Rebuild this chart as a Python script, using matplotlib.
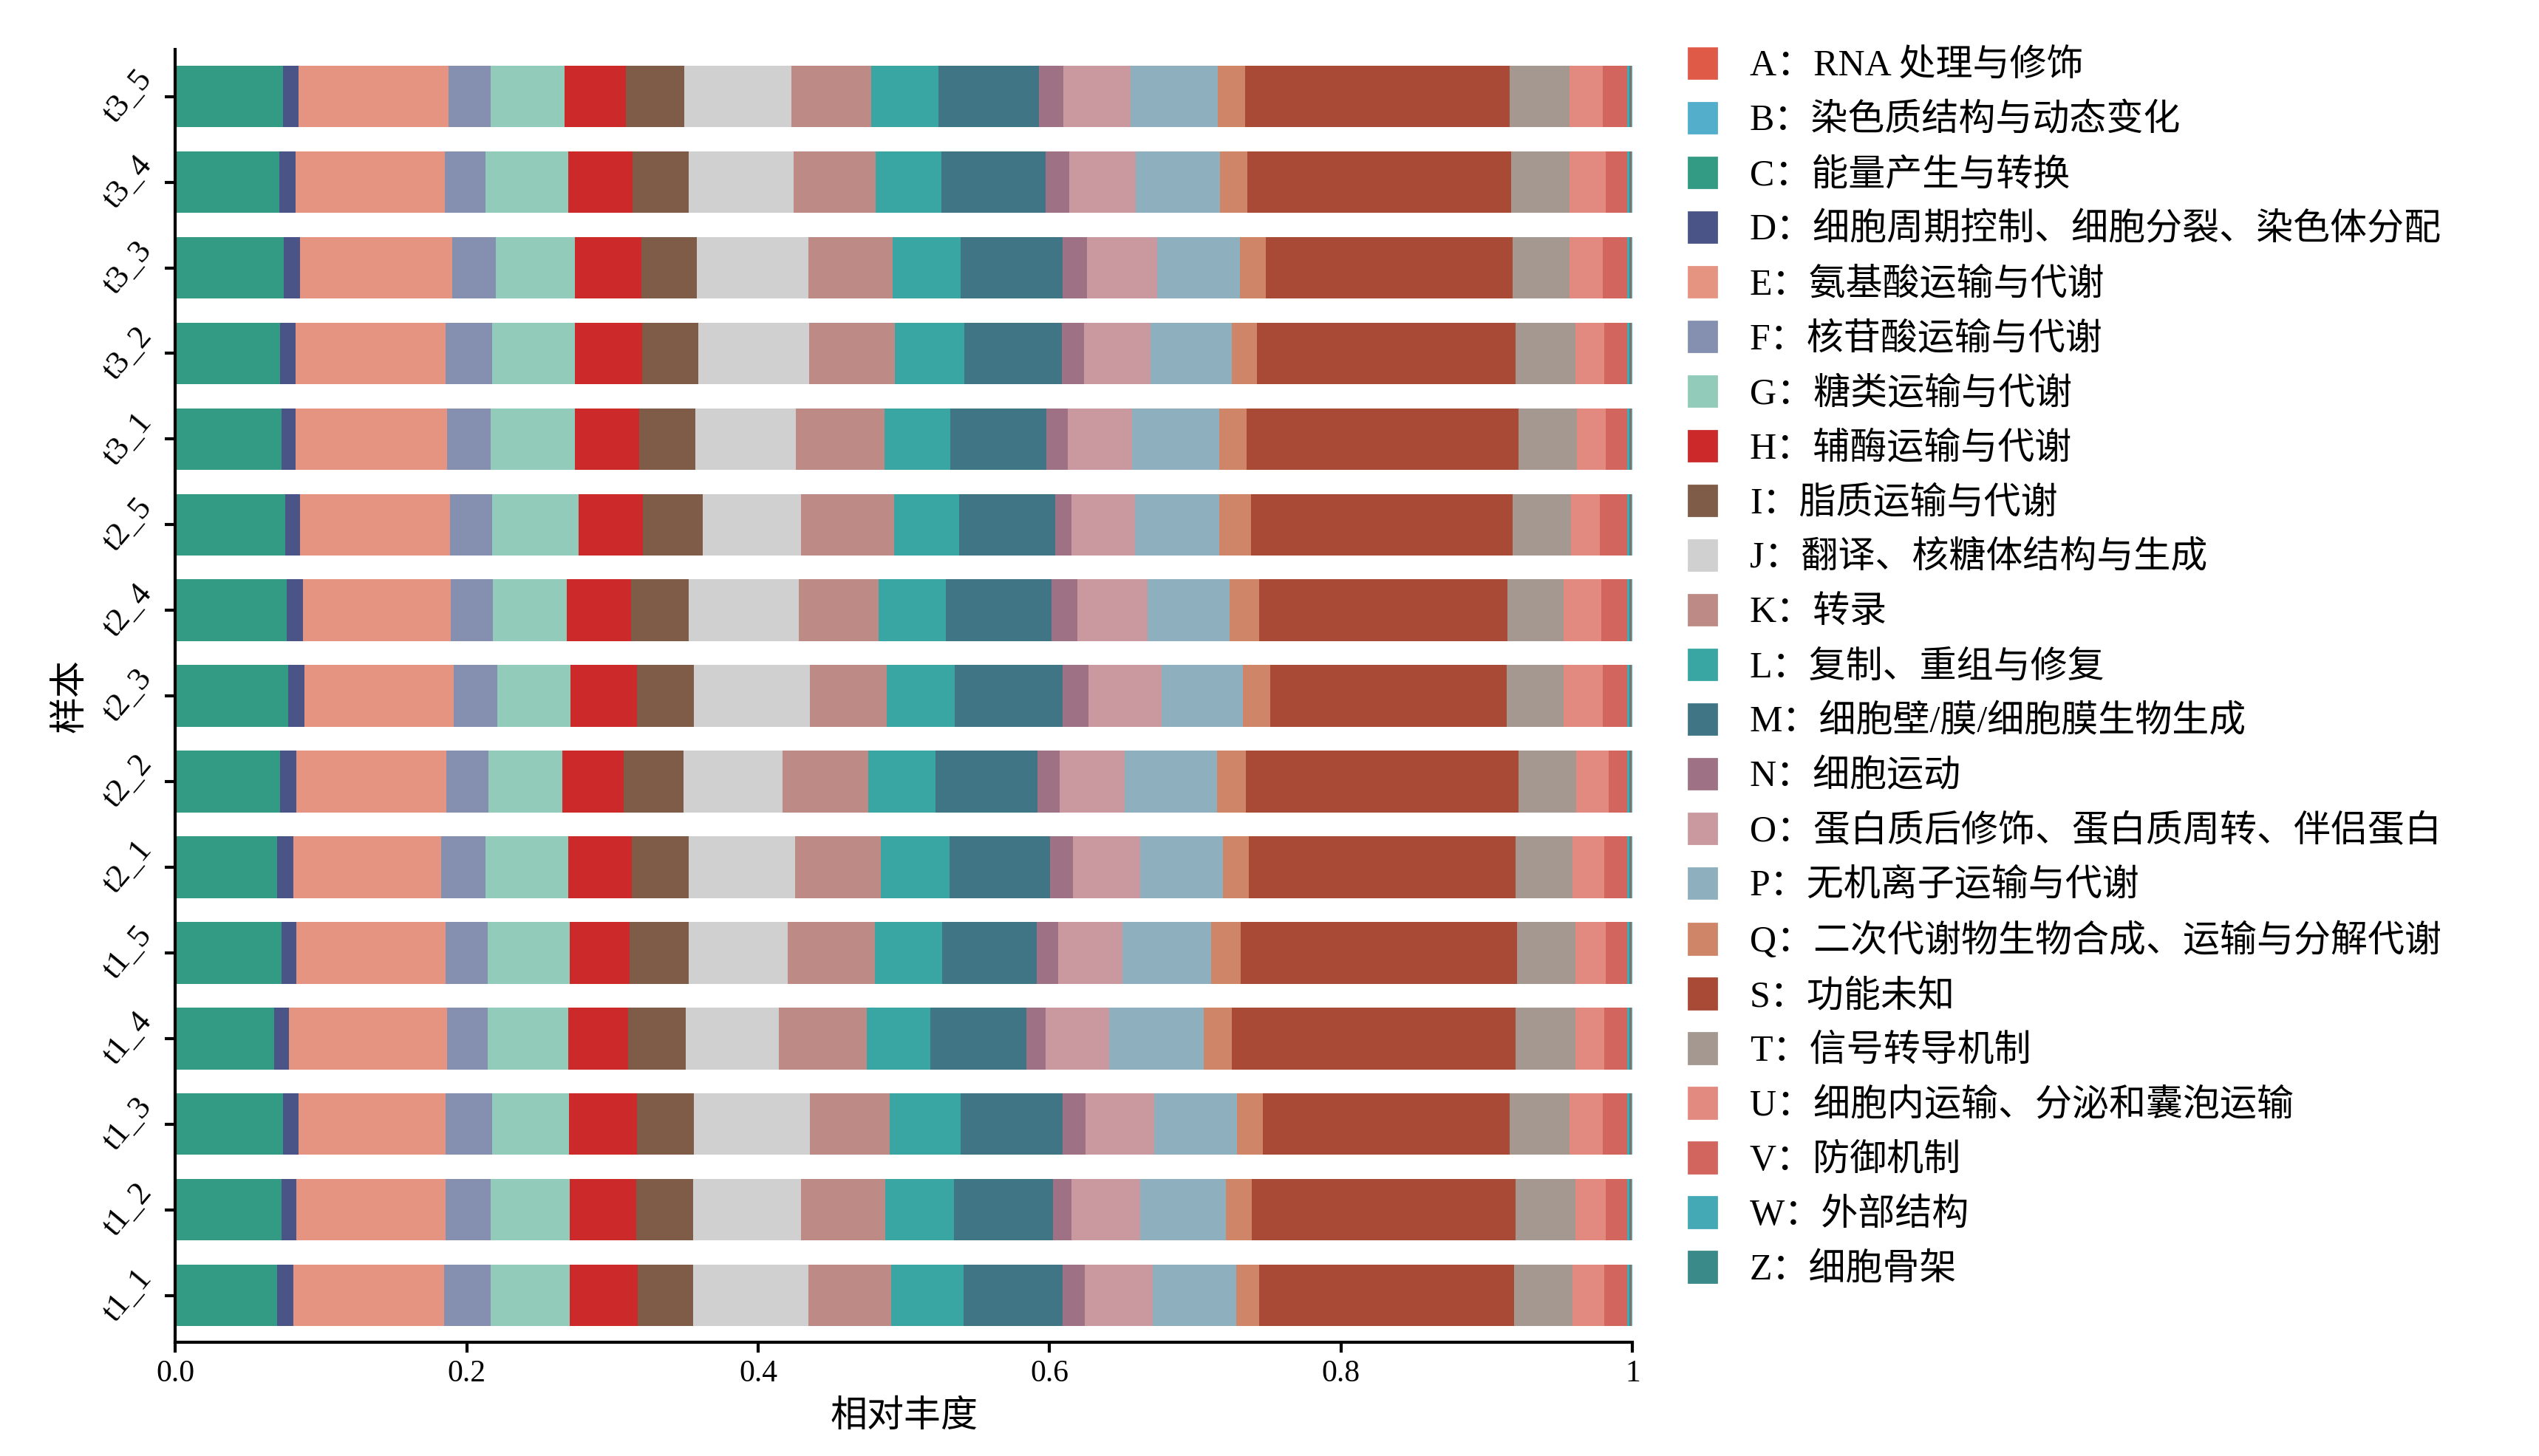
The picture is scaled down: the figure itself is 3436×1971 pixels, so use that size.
import numpy as np
import matplotlib
matplotlib.use("Agg")
import matplotlib.pyplot as plt
from matplotlib.patches import Patch

plt.rcParams['font.family'] = ['Noto Sans CJK SC', 'DejaVu Sans']

## data
samples = ['t1_1', 't1_2', 't1_3', 't1_4', 't1_5',
           't2_1', 't2_2', 't2_3', 't2_4', 't2_5',
           't3_1', 't3_2', 't3_3', 't3_4', 't3_5']

# stacking order as seen in the bars (C first), percent values
stack_keys = ['C', 'D', 'E', 'F', 'G', 'H', 'I', 'J', 'K', 'L', 'M', 'N', 'O', 'P', 'Q', 'S', 'T', 'U', 'V', 'W', 'Z', 'A', 'B']

rows = [
    [7.0, 1.1, 10.4, 3.2, 5.4, 4.7, 3.8, 7.9, 5.7, 5.0, 6.8, 1.5, 4.7, 5.7, 1.6, 17.5, 4.0, 2.2, 1.6],
    [7.3, 1.0, 10.3, 3.1, 5.4, 4.6, 3.9, 7.4, 5.8, 4.7, 6.8, 1.3, 4.7, 5.9, 1.8, 18.1, 4.1, 2.1, 1.5],
    [7.4, 1.1, 10.1, 3.2, 5.3, 4.7, 3.9, 8.0, 5.5, 4.9, 7.0, 1.6, 4.7, 5.7, 1.8, 17.0, 4.1, 2.3, 1.7],
    [6.8, 1.0, 10.9, 2.8, 5.5, 4.1, 4.0, 6.4, 6.0, 4.4, 6.6, 1.3, 4.4, 6.5, 1.9, 19.5, 4.1, 2.0, 1.6],
    [7.3, 1.0, 10.3, 2.9, 5.6, 4.1, 4.1, 6.8, 6.0, 4.6, 6.5, 1.5, 4.4, 6.1, 2.0, 19.0, 4.0, 2.1, 1.5],
    [7.0, 1.1, 10.2, 3.0, 5.7, 4.4, 3.9, 7.3, 5.9, 4.7, 6.9, 1.6, 4.6, 5.7, 1.8, 18.3, 3.9, 2.2, 1.6],
    [7.2, 1.1, 10.3, 2.9, 5.1, 4.2, 4.1, 6.8, 5.9, 4.6, 7.0, 1.5, 4.5, 6.3, 2.0, 18.7, 4.0, 2.2, 1.3],
    [7.8, 1.1, 10.3, 3.0, 5.0, 4.6, 3.9, 8.0, 5.3, 4.7, 7.4, 1.8, 5.0, 5.6, 1.9, 16.3, 3.9, 2.7, 1.7],
    [7.7, 1.1, 10.2, 2.9, 5.1, 4.4, 4.0, 7.6, 5.5, 4.6, 7.3, 1.8, 4.8, 5.7, 2.0, 17.1, 3.9, 2.6, 1.8],
    [7.6, 1.0, 10.3, 2.9, 6.0, 4.4, 4.1, 6.8, 6.4, 4.5, 6.6, 1.1, 4.4, 5.8, 2.2, 18.0, 4.0, 2.0, 1.9],
    [7.3, 1.0, 10.4, 3.0, 5.8, 4.4, 3.9, 6.9, 6.1, 4.5, 6.6, 1.5, 4.4, 6.0, 1.9, 18.7, 4.0, 2.0, 1.5],
    [7.2, 1.1, 10.3, 3.2, 5.7, 4.6, 3.9, 7.6, 5.9, 4.8, 6.7, 1.5, 4.6, 5.6, 1.7, 17.8, 4.1, 2.0, 1.6],
    [7.5, 1.1, 10.5, 3.0, 5.4, 4.6, 3.8, 7.7, 5.8, 4.7, 7.0, 1.7, 4.8, 5.7, 1.8, 17.0, 3.9, 2.3, 1.7],
    [7.2, 1.1, 10.3, 2.8, 5.7, 4.4, 3.9, 7.2, 5.7, 4.5, 7.2, 1.6, 4.6, 5.8, 1.9, 18.2, 4.0, 2.5, 1.5],
    [7.4, 1.1, 10.3, 2.9, 5.1, 4.2, 4.0, 7.4, 5.5, 4.6, 6.9, 1.7, 4.6, 6.0, 1.9, 18.2, 4.1, 2.3, 1.7],
]
# tiny categories at the right edge (W, Z, A, B)
tiny = [0.15, 0.1, 0.05, 0.05]

legend_keys = ['A', 'B', 'C', 'D', 'E', 'F', 'G', 'H', 'I', 'J', 'K', 'L', 'M', 'N', 'O', 'P', 'Q', 'S', 'T', 'U', 'V', 'W', 'Z']
legend_names = ['RNA 处理与修饰', '染色质结构与动态变化', '能量产生与转换',
                '细胞周期控制、细胞分裂、染色体分配', '氨基酸运输与代谢', '核苷酸运输与代谢',
                '糖类运输与代谢', '辅酶运输与代谢', '脂质运输与代谢', '翻译、核糖体结构与生成',
                '转录', '复制、重组与修复', '细胞壁/膜/细胞膜生物生成', '细胞运动',
                '蛋白质后修饰、蛋白质周转、伴侣蛋白', '无机离子运输与代谢',
                '二次代谢物生物合成、运输与分解代谢', '功能未知', '信号转导机制',
                '细胞内运输、分泌和囊泡运输', '防御机制', '外部结构', '细胞骨架']

colors = {'A': '#e05a48', 'B': '#52aecb', 'C': '#339a83', 'D': '#4a5487', 'E': '#e69482',
          'F': '#8590b0', 'G': '#93cbba', 'H': '#cc2a2a', 'I': '#7e5c47', 'J': '#d0d0d0',
          'K': '#bd8a85', 'L': '#3aa6a4', 'M': '#3f7585', 'N': '#9e7284', 'O': '#c9999f',
          'P': '#8eafbd', 'Q': '#cf8568', 'S': '#a84a35', 'T': '#a59890', 'U': '#e38a80',
          'V': '#d2655d', 'W': '#45a8b5', 'Z': '#3a8a8a'}

serif = ['Liberation Serif', 'DejaVu Serif']

## normalise to proportions
vals = np.array([r + tiny for r in rows], dtype=float)
vals = vals / vals.sum(axis=1, keepdims=True)

fig = plt.figure(figsize=(17.18, 9.855), dpi=200)
ax = fig.add_axes([0.069, 0.078, 0.574, 0.888])

y = np.arange(len(samples))
left = np.zeros(len(samples))
for j, k in enumerate(stack_keys):
    ax.barh(y, vals[:, j], left=left, height=0.72, color=colors[k], linewidth=0)
    left += vals[:, j]

ax.set_xlim(0, 1)
ax.set_ylim(-0.55, len(samples) - 0.45)
ax.set_xticks([0, 0.2, 0.4, 0.6, 0.8, 1.0])
ax.set_xticklabels(['0.0', '0.2', '0.4', '0.6', '0.8', '1'], fontsize=15, family=serif)
ax.set_yticks(y)
ax.set_yticklabels(samples, rotation=50, fontsize=16, va='center', family=serif)
ax.spines['top'].set_visible(False)
ax.spines['right'].set_visible(False)
ax.spines['left'].set_linewidth(1.5)
ax.spines['bottom'].set_linewidth(1.5)
ax.tick_params(length=5, width=1.5)
ax.set_xlabel('相对丰度', fontsize=18, labelpad=4)
ax.set_ylabel('样本', fontsize=18)

handles = [Patch(color=colors[k]) for k in legend_keys]
labels = [f'{k}：{n}' for k, n in zip(legend_keys, legend_names)]
fig.legend(handles, labels, loc='upper left', bbox_to_anchor=(0.652, 0.99),
           frameon=False, fontsize=18, handlelength=0.75, handleheight=0.9,
           handletextpad=0.9, labelspacing=0.5,
           prop={'family': ['Liberation Serif', 'Noto Sans CJK SC'], 'size': 18})

fig.savefig('out.png', dpi=200)
